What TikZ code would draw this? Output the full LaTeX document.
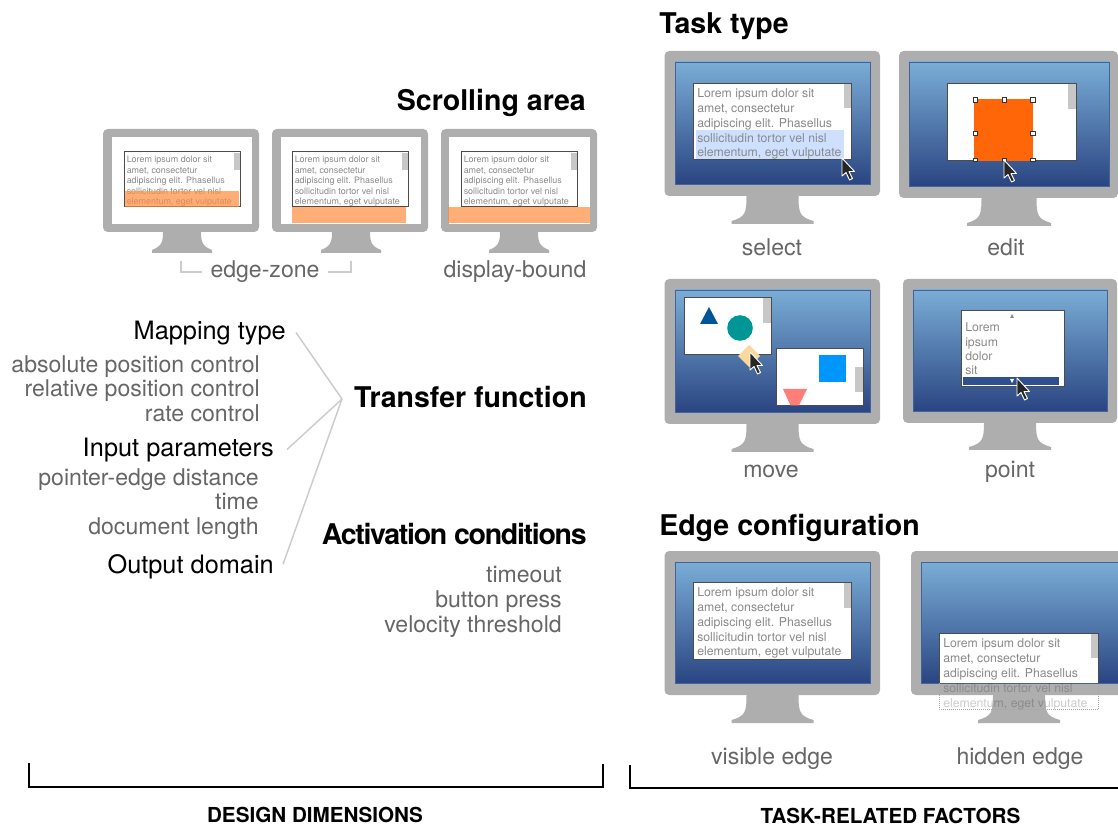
\documentclass[tikz,border=0pt]{standalone}
\usepackage{fontspec}
\usepackage{xcolor}
\usepackage{tikz}
\setmainfont{TeX Gyre Heros}
\definecolor{bodygray}{HTML}{AEAEAE}
\definecolor{labelgray}{HTML}{666666}
\definecolor{loremgray}{HTML}{8A8A8A}
\definecolor{linegray}{HTML}{CCCCCC}
\definecolor{selblue}{HTML}{CDE0FF}
\definecolor{softorange}{HTML}{FF8C3C}
\definecolor{hotorange}{RGB}{255,102,8}
\definecolor{screentop}{RGB}{122,173,214}
\definecolor{screenbottom}{RGB}{42,69,130}
\tikzset{
  title/.style={font=\fontsize{21.4}{21.4}\selectfont\bfseries, text=black, inner sep=0pt},
  term/.style={font=\fontsize{19}{19}\selectfont, text=black, inner sep=0pt},
  choice/.style={font=\fontsize{17.3}{17.3}\selectfont, text=labelgray, inner sep=0pt},
  caption/.style={font=\fontsize{15.5}{15.5}\selectfont\bfseries, text=black, inner sep=0pt},
  lorem/.style={font=\fontsize{9.2}{11.1}\selectfont, text=loremgray, inner sep=0pt, align=left, anchor=north west},
  loremsmall/.style={font=\fontsize{6.7}{7.9}\selectfont, text=loremgray, inner sep=0pt, align=left, anchor=north west},
  bluescreen/.style={top color=screentop, bottom color=screenbottom, draw=screenbottom!70!screentop, line width=0.4pt},
  docwin/.style={fill=white, draw=black!70, line width=0.75pt},
  scrollbar/.style={fill=black!22},
  handle/.style={fill=white, draw=black!80, line width=0.6pt},
  guide/.style={draw=linegray, line width=1.1pt},
  bracket/.style={draw=black, line width=1.1pt}
}
% body x0 y0 x1 y1, stand centre, neck half width, base half width, stand bottom
\newcommand{\monitor}[8]{
  \fill[bodygray, rounded corners=3.5pt] (#1,#2) rectangle (#3,#4);
  \fill[bodygray] ({#5-#6},#4-1) .. controls ({#5-#6},#8-11) and ({#5-#6-1},#8-7) .. ({#5-#7},#8-3)
    -- ({#5-#7},#8) -- ({#5+#7},#8) -- ({#5+#7},#8-3)
    .. controls ({#5+#6+1},#8-7) and ({#5+#6},#8-11) .. ({#5+#6},#4-1) -- cycle;
}
\newcommand{\pointer}[2]{
  \draw[fill=black!85, draw=white, line width=0.7pt, line join=round, shift={(#1,#2)}]
    (0,0) -- (0,18) -- (4,14.5) -- (7.5,22) -- (10.5,20.5) -- (7,13.5) -- (12.5,13.5) -- cycle;
}
\newcommand{\loremtext}{Lorem ipsum dolor sit\\amet, consectetur\\adipiscing elit. Phasellus\\sollicitudin tortor vel nisl\\elementum, eget vulputate}

\begin{document}
\begin{tikzpicture}[x=0.75pt, y=-0.75pt]
  \clip (0,0) rectangle (1118,830);

  % scrolling area
  \monitor{103}{129}{259}{232}{182}{19}{30}{253}
  \monitor{272}{129}{428}{232}{351}{19}{30}{253}
  \monitor{441}{129}{597}{232}{519}{19}{30}{253}
  \fill[white] (112,137) rectangle (252,224);
  \fill[white] (281,137) rectangle (421,224);
  \fill[white] (449,137) rectangle (590,224);
  \draw[docwin] (124,152) rectangle (240,207);
  \draw[docwin] (292,152) rectangle (408,207);
  \draw[docwin] (461,152) rectangle (577,207);
  \fill[scrollbar] (234,153) rectangle (239.5,170);
  \fill[scrollbar] (402,153) rectangle (407.5,170);
  \fill[scrollbar] (571,153) rectangle (576.5,170);
  \node[loremsmall] (scrolltexta) at (126.5,156) {\loremtext};
  \node[loremsmall] (scrolltextb) at (294.5,156) {\loremtext};
  \node[loremsmall] (scrolltextc) at (463.5,156) {\loremtext};
  \fill[softorange, opacity=0.7] (125,191) rectangle (239,207);
  \fill[softorange, opacity=0.7] (292,207) rectangle (406,223);
  \fill[softorange, opacity=0.7] (448,207) rectangle (590,223);

  \node[title, anchor=base east] (scrolling) at (586,111) {Scrolling area};
  \node[choice, anchor=base] (edgezone) at (265,278) {edge-zone};
  \node[choice, anchor=base] (displaybound) at (515,278) {display-bound};
  \coordinate (zonea) at (181,261);
  \coordinate (zoneb) at (351,261);
  \coordinate (zonec) at (202,272);
  \coordinate (zoned) at (328,272);
  \draw[guide] (zonea) |- (zonec);
  \draw[guide] (zoneb) |- (zoned);

  % transfer function
  \node[title, anchor=base east] (transfer) at (587,408) {Transfer function};
  \node[term, anchor=base east] (maptype) at (286,340) {Mapping type};
  \node[choice, anchor=base east] (absolute) at (260,373) {absolute position control};
  \node[choice, anchor=base east] (relative) at (260,397) {relative position control};
  \node[choice, anchor=base east] (rate) at (260,422) {rate control};
  \node[term, anchor=base east] (inputpar) at (274,457) {Input parameters};
  \node[choice, anchor=base east] (distance) at (259,486) {pointer-edge distance};
  \node[choice, anchor=base east] (time) at (259,510) {time};
  \node[choice, anchor=base east] (doclength) at (259,535) {document length};
  \node[term, anchor=base east] (outdomain) at (274,574) {Output domain};
  \coordinate (hub) at (342,399);
  \draw[guide] (maptype.east) ++(10,-1) -- (hub);
  \draw[guide] (inputpar.east) ++(13,-1) -- (hub);
  \draw[guide] (outdomain.east) ++(9,-3) -- (hub);

  % activation conditions
  \node[title, anchor=base east] (activation) at (587,545) {\addfontfeature{LetterSpace=-4.5}Activation conditions};
  \node[choice, anchor=base east] (timeout) at (562,582) {timeout};
  \node[choice, anchor=base east] (buttonpress) at (562,607) {button press};
  \node[choice, anchor=base east] (velocity) at (562,632) {velocity threshold};

  % task type
  \node[title, anchor=base west] (tasktype) at (659,34) {Task type};
  \monitor{664.5}{51}{880}{196}{772.5}{26}{41}{224}
  \shade[bluescreen] (675,62) rectangle (870,184);
  \draw[docwin] (693.5,83.5) rectangle (851,160);
  \fill[scrollbar] (844,84) rectangle (850.5,108);
  \fill[selblue] (696,130) rectangle (844,159);
  \node[lorem] (selecttext) at (697,88.5) {\loremtext};
  \pointer{842}{158}
  \node[choice, anchor=base] (selectlabel) at (772,256) {select};

  \monitor{899}{51}{1118}{198}{1009}{27.5}{42}{226}
  \shade[bluescreen] (909,62) rectangle (1109,186);
  \draw[docwin] (947,83.5) rectangle (1076,161);
  \fill[scrollbar] (1068,84) rectangle (1075.5,109);
  \fill[hotorange] (974,99) rectangle (1033,161);
  \draw[handle] (973,97.5) rectangle (977.5,102);
  \draw[handle] (1002,97.5) rectangle (1006.5,102);
  \draw[handle] (1030.5,97.5) rectangle (1035,102);
  \draw[handle] (973,131) rectangle (977.5,135.5);
  \draw[handle] (1030.5,131) rectangle (1035,135.5);
  \draw[handle] (973,158.5) rectangle (977.5,161);
  \draw[handle] (1002,158.5) rectangle (1006.5,161);
  \draw[handle] (1030.5,158.5) rectangle (1035,161);
  \pointer{1004}{160}
  \node[choice, anchor=base] (editlabel) at (1006,256) {edit};

  \monitor{664.5}{279}{880}{424}{772.5}{26}{41}{452}
  \shade[bluescreen] (675,290) rectangle (870,412);
  \draw[docwin] (684,297.5) rectangle (771.5,355);
  \fill[scrollbar] (763,298) rectangle (771,323);
  \fill[fill={rgb,255:red,0;green,85;blue,150}] (709,307) -- (718,324) -- (700,324) -- cycle;
  \fill[fill={rgb,255:red,0;green,150;blue,150}] (740,328) circle[radius=9.6pt];
  \draw[docwin] (776,348.5) rectangle (863,406);
  \fill[scrollbar] (855,367) rectangle (863,392);
  \fill[fill={rgb,255:red,0;green,150;blue,255}] (819,355) rectangle (846,382);
  \fill[fill={rgb,255:red,255;green,126;blue,121}] (783,389) -- (807,389) -- (799,405.5) -- (790.5,405.5) -- cycle;
  \fill[fill={rgb,255:red,250;green,215;blue,155}] (749,345) -- (760,356) -- (749,367) -- (738,356) -- cycle;
  \pointer{750}{352}
  \node[choice, anchor=base] (movelabel) at (771,478) {move};

  \monitor{903}{279}{1117}{423}{1010}{26}{41}{450}
  \shade[bluescreen] (913,290) rectangle (1107,411);
  \draw[docwin] (961,311) rectangle (1064,386.5);
  \fill[loremgray] (1010,318) -- (1012,314) -- (1014,318) -- cycle;
  \node[lorem, font=\fontsize{9.2}{10.8}\selectfont] (pointtext) at (965,322.5) {Lorem\\ipsum\\dolor\\sit};
  \fill[fill={rgb,255:red,47;green,79;blue,143}] (963,377) rectangle (1059,385);
  \fill[white] (1010,379) -- (1014,379) -- (1012,383) -- cycle;
  \pointer{1017}{378}
  \node[choice, anchor=base] (pointlabel) at (1010,478) {point};

  % edge configuration
  \node[title, anchor=base west] (edgeconf) at (659,536) {Edge configuration};
  \monitor{664.5}{551}{880}{695}{772.5}{26}{41}{723}
  \shade[bluescreen] (675,562) rectangle (870,683);
  \draw[docwin] (693.5,582.5) rectangle (851,659);
  \fill[scrollbar] (844,583) rectangle (850.5,608);
  \node[lorem] (visibletext) at (697,587.5) {\loremtext};
  \node[choice, anchor=base] (visiblelabel) at (772,764) {visible edge};

  \monitor{911}{551}{1135}{695}{1019}{26}{41}{723}
  \shade[bluescreen] (921,562) rectangle (1125,683);
  \fill[white] (939,633.5) rectangle (1098.5,683);
  \draw[black!70, line width=0.75pt] (939,683) |- (1098.5,633.5) -- (1098.5,683);
  \fill[scrollbar] (1091,634) rectangle (1098,658);
  \node[lorem] (hiddentext) at (943,638.5) {Lorem ipsum dolor sit\\amet, consectetur\\adipiscing elit. Phasellus};
  \node[lorem, text=black, text opacity=0.2] (hiddenrest) at (943,683) {sollicitudin tortor vel nisl\\elementum, eget vulputate};
  \draw[black!35, densely dotted, line width=0.5pt] (939,683) |- (1098.5,709) -- (1098.5,683);
  \node[choice, anchor=base] (hiddenlabel) at (1020,764) {hidden edge};

  % footers
  \coordinate (designa) at (29,763);
  \coordinate (designb) at (603,764);
  \coordinate (taska) at (630,765);
  \coordinate (taskb) at (1125,788);
  \draw[bracket] (designa) |- (designb |- 0,787) -- (designb);
  \draw[bracket] (taska) |- (taskb);
  \node[caption, anchor=base] (design) at (315,822) {DESIGN DIMENSIONS};
  \node[caption, anchor=base] (factors) at (890.5,823) {TASK-RELATED FACTORS};
\end{tikzpicture}
\end{document}
